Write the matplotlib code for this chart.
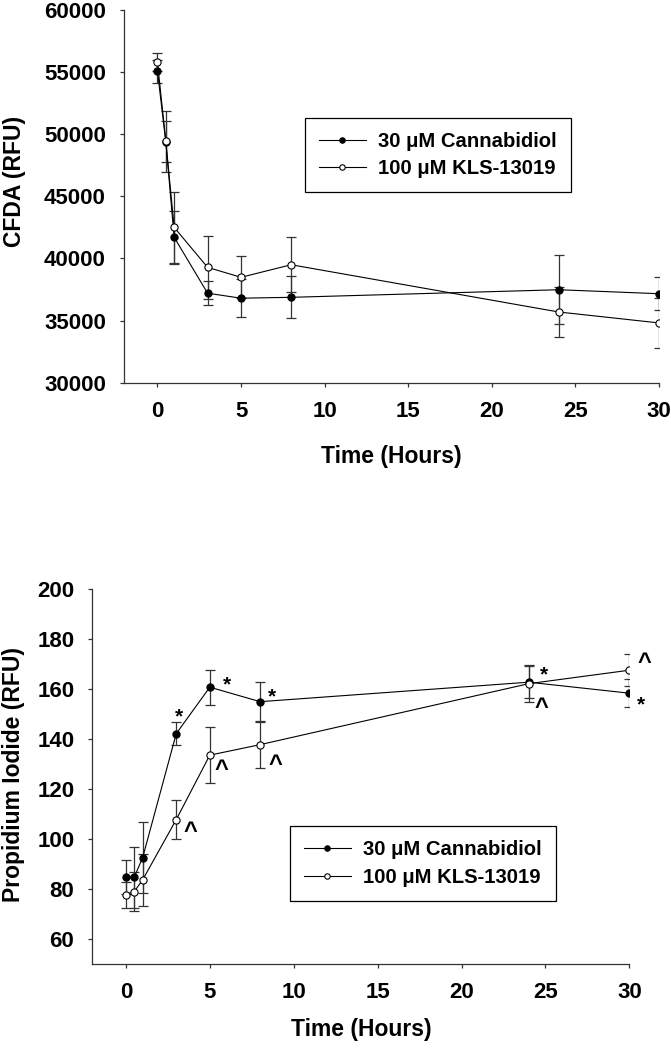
"""
CFDA / Propidium Iodide time courses (two stacked panels)
"""

import matplotlib
matplotlib.use('Agg')
import matplotlib.pyplot as plt

plt.rcParams['font.family'] = ['Liberation Sans', 'DejaVu Sans']
plt.rcParams['font.weight'] = 'bold'

# ---- data ----
time_h = [0, 0.5, 1, 3, 5, 8, 24, 30]

cfda_cbd = [55050, 49400, 41700, 37200, 36800, 36870, 37480, 37160]
cfda_cbd_err = [930, 1620, 2150, 960, 1520, 1680, 2760, 1330]
cfda_kls = [55800, 49430, 42500, 39280, 38480, 39490, 35690, 34810]
cfda_kls_err = [760, 2450, 2850, 2550, 1700, 2200, 2050, 2000]

pi_cbd = [84.8, 84.8, 92.6, 142.2, 160.8, 155.0, 162.8, 158.4]
pi_cbd_err = [6.9, 12.2, 14.2, 4.6, 7.0, 8.0, 6.3, 5.6]
pi_kls = [77.8, 79.0, 83.7, 107.8, 133.6, 137.8, 162.2, 167.6]
pi_kls_err = [5.2, 7.7, 10.5, 7.7, 11.1, 9.5, 7.5, 6.3]

# significance marks (index into time_h)
star_idx = [3, 4, 5, 6, 7]
caret_idx = [3, 4, 5, 6, 7]

label_cbd = '30 \u03bcM Cannabidiol'
label_kls = '100 \u03bcM KLS-13019'

# mark offsets from their data point, pixels (glyph centre)
star_off = [(3, 23), (17, 9), (12, 11), (15, 14), (12, -5)]
caret_off = [(14, -6), (12, -9), (15, -14), (13, -18), (15, 13)]

AX_COLOR = '#333333'


def draw_panel(ax, a, a_err, b, b_err):
    for y, e in ((a, a_err), (b, b_err)):
        ax.errorbar(time_h, y, yerr=e, fmt='none', ecolor=AX_COLOR,
                    elinewidth=0.9, capsize=3.8, capthick=0.9, zorder=2)
    ax.plot(time_h, a, '-o', color='black', mfc='black', mec='black',
            ms=5.2, lw=0.8, mew=0.8, label=label_cbd, zorder=3)
    ax.plot(time_h, b, '-o', color='black', mfc='white', mec='black',
            ms=5.2, lw=0.8, mew=0.8, label=label_kls, zorder=4)

    ax.set_xlim(-2, 30)
    ax.set_xticks(range(0, 31, 5))
    for s in ('top', 'right'):
        ax.spines[s].set_visible(False)
    for s in ('left', 'bottom'):
        ax.spines[s].set_color(AX_COLOR)
        ax.spines[s].set_linewidth(0.9)
    ax.tick_params(direction='out', length=3, width=0.9, color=AX_COLOR,
                   labelsize=16, pad=10)
    for lab in ax.get_xticklabels() + ax.get_yticklabels():
        lab.set_fontweight('bold')
    ax.set_xlabel('Time (Hours)', fontsize=16.5, fontweight='bold', va='center')


def add_legend(ax, anchor):
    leg = ax.legend(loc='upper left', bbox_to_anchor=anchor, frameon=True,
                    fancybox=False, edgecolor='black', framealpha=1,
                    borderpad=0.7, handlelength=2.3, handletextpad=0.6,
                    labelspacing=0.42, borderaxespad=0, markerscale=0.75,
                    prop={'size': 14.6, 'weight': 'bold'})
    leg.get_frame().set_linewidth(0.9)


fig = plt.figure(figsize=(6.71, 10.5), dpi=100)

# top panel: CFDA
ax1 = fig.add_axes([0.1848, 0.6355, 0.7973, 0.3552])
draw_panel(ax1, cfda_cbd, cfda_cbd_err, cfda_kls, cfda_kls_err)
ax1.set_ylim(30000, 60000)
ax1.set_yticks(range(30000, 60001, 5000))
ax1.set_ylabel('CFDA (RFU)', fontsize=16.5, fontweight='bold', va='center')
ax1.xaxis.set_label_coords(0.5, -0.1965)
ax1.yaxis.set_label_coords(-0.205, 0.541)
add_legend(ax1, (0.338, 0.711))

# bottom panel: propidium iodide
ax2 = fig.add_axes([0.1376, 0.0819, 0.8003, 0.3569])
draw_panel(ax2, pi_cbd, pi_cbd_err, pi_kls, pi_kls_err)
ax2.set_ylim(50, 200)
ax2.set_yticks(range(60, 201, 20))
ax2.set_ylabel('Propidium Iodide (RFU)', fontsize=16.5, fontweight='bold', va='center')
ax2.xaxis.set_label_coords(0.5, -0.176)
ax2.yaxis.set_label_coords(-0.147, 0.506)
add_legend(ax2, (0.368, 0.368))

# glyph centre sits above the baseline by roughly this many pixels
for idx, (dx, dy) in zip(star_idx, star_off):
    ax2.annotate('*', (time_h[idx], pi_cbd[idx]), xytext=(dx, dy - 12),
                 textcoords='offset pixels', ha='center', va='baseline',
                 fontsize=15, fontweight='bold')
for idx, (dx, dy) in zip(caret_idx, caret_off):
    ax2.annotate('^', (time_h[idx], pi_kls[idx]), xytext=(dx, dy - 12),
                 textcoords='offset pixels', ha='center', va='baseline',
                 fontsize=17, fontweight='bold')

fig.savefig('out.png', dpi=100)
